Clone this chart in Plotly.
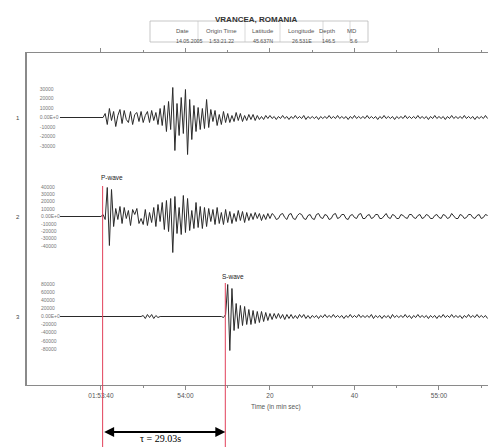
import plotly.graph_objects as go

# ---------------- data ----------------
# time in seconds relative to 01:53:40
RECORD_START = -9.7
SAMPLE_START = 0.0
DT = 0.5

TRACE1 = [
    0, 0, 4, -7, 9, -3, 6, -9, 2, 8,
    -6, 7, -2, -5, 6, -7, 3, 5, -4, 6,
    -5, 2, 6, -5, 7, -3, 5, -7, 9, -8,
    12, -14, 16, -12, 30, -33, 14, -18, 20, -16,
    28, -37, 18, -22, 12, -14, 10, -12, 9, -11,
    18, -10, 8, -4, 7, -8, 3, -7, 6, -5,
    4, -5, 2, -4, 5, -3, 4, -4, 2, -3,
    3, -2, 3, -3, 2, -2, 1, -2, 2, -1,
    2, -1, 1, -2, 1, -1, 2, -1, 1, -2,
    1, -1, 2, -1, 1, -1, 2, -2, 1, -1,
    1, -1, 1, -2, 1, -1, 1, -1, 2, -1,
    1, -1, 2, -1, 1, -1, 1, -2, 1, -1,
    2, -1, 1, -1, 1, -1, 2, -1, 1, -1,
    1, -2, 1, -1, 2, -1, 1, -1, 1, -2,
    1, -1, 1, -1, 2, -1, 1, -1, 1, -1,
    2, -1, 1, -1, 1, -2, 1, -1, 2, -1,
    1, -1, 1, -2, 1, -1, 2, -1, 1, -1,
    1, -1, 2, -1, 1, -1, 1, -2, 1, -1,
    1, -1, 2, -1,
]

TRACE2 = [
    0, 2, -3, 29, -29, 27, -10, 8, -3, 10,
    -7, 9, -2, 6, -9, 7, 2, 8, -7, -2,
    -8, 7, -9, 4, -6, 9, -10, 12, -5, 14,
    -13, 16, -15, 18, -36, 20, -17, 9, -18, 21,
    -16, 18, -14, 6, -12, 14, -11, 10, -12, 9,
    -10, 8, -5, 7, -8, 9, -7, 4, -8, 7,
    -6, 5, -7, 3, -5, 6, -4, 5, -6, 4,
    -4, 3, -3, 4, -2, 3, -4, 2, -3, 3,
    -2, 3, 1, -3, -2, 2, 3, -1, -3, 2,
    3, -2, -3, 1, 3, 2, -2, -3, 1, 2,
    -2, -3, 2, 3, -1, -2, 2, 1, -3, -2,
    2, 3, -2, -1, 2, 2, -2, -3, 1, 2,
    -1, -2, 2, 3, -2, -2, 1, 2, -2, -1,
    2, 2, -2, -2, 1, 3, -1, -2, 2, 1,
    -2, -2, 2, 1, -1, -2, 2, 2, -1, -2,
    1, 2, -2, -1, 2, 1, -2, -2, 1, 2,
    -1, -2, 2, 1, -2, -1, 3, 1, -2, -2,
    2, 1, -2, -1, 2, 2, -1, -2, 1, 2,
    -2, -1, 2, 1,
]

TRACE3 = [
    0, 0, 0, 0, 0, 0, 0, 0, 0, 0,
    0, 0, 0, 0, 0, 0, 0, 0, 0, 0,
    1, -2, 2, -1, 2, -2, 1, -1, 0, 0,
    0, 0, 0, 0, 0, 0, 0, 0, 0, 0,
    0, 0, 0, 0, 0, 0, 0, 0, 0, 0,
    0, 0, 0, 0, 0, 0, 0, 0, -1, 2,
    32, -34, 28, -14, 13, -12, 11, -9, 10, -8,
    7, -8, 6, -7, 5, -6, 5, -5, 4, -4,
    3, -3, 3, -2, 3, -2, 2, -3, 2, -2,
    2, -2, 1, -2, 2, -1, 2, -2, 1, -2,
    1, -1, 1, -2, 1, -1, 2, -1, 1, -1,
    2, -1, 1, -1, 1, -2, 1, -1, 2, -1,
    1, -1, 2, -1, 1, -1, 1, -1, 2, -2,
    1, -1, 1, -2, 1, -1, 1, -2, 2, -1,
    1, -1, 1, -1, 2, -1, 1, -2, 1, -1,
    2, -1, 1, -1, 1, -2, 1, -1, 1, -2,
    1, -1, 2, -1, 1, -1, 2, -1, 1, -1,
    1, -2, 1, -1, 2, -1, 1, -1, 2, -1,
    1, -1, 1, -2,
]

CHANNELS = ["1", "2", "3"]

P_ARRIVAL = 0.4
TAU = 29.03

X_TICKVALS = [0, 20, 40, 60, 80]
X_TICKTEXT = ["01:53:40", "54:00", "20", "40", "55:00"]

AMP1_VALS = [28.5, 19, 9.5, 0, -9.5, -19, -28.5]
AMP1_TEXT = ["30000", "20000", "10000", "0.00E+0", "-10000", "-20000", "-30000"]
AMP2_VALS = [29.6, 22.2, 14.8, 7.4, 0, -7.4, -14.8, -22.2, -29.6]
AMP2_TEXT = ["40000", "30000", "20000", "10000", "0.00E+0", "-10000", "-20000", "-30000", "-40000"]
AMP3_VALS = [32.4, 24.3, 16.2, 8.1, 0, -8.1, -16.2, -24.3, -32.4]
AMP3_TEXT = ["80000", "60000", "40000", "20000", "0.00E+0", "-20000", "-40000", "-60000", "-80000"]

TABLE_HEADER = ["Date", "Origin Time", "Latitude", "Longitude", "Depth", "MD"]
TABLE_ROW = ["14.05.2005", "1:53:21.22", "45.637N", "26.531E", "146.5", "5.6"]
TITLE = "VRANCEA, ROMANIA"

# ---------------- figure ----------------
FONT = "Liberation Sans, Arial, sans-serif"
TRACE_COLOR = "#2a2a2a"
FRAME = "#8a8a8a"
RED = "#e2405a"
W, H = 488, 447
ML, MB = 27, 62
PW, PH = W - ML, H - MB


def px2x(px):
    return (px - ML) / PW


def px2y(py):
    return (PH - py) / PH


def times(n):
    return [RECORD_START] + [SAMPLE_START + i * DT for i in range(n)]


fig = go.Figure()
for vals, ax in [(TRACE1, "y"), (TRACE2, "y2"), (TRACE3, "y3")]:
    fig.add_trace(go.Scatter(
        x=times(len(vals)), y=[0] + vals, yaxis=ax, mode="lines",
        line=dict(color=TRACE_COLOR, width=1.0),
        hoverinfo="skip", showlegend=False))

S_ARRIVAL = P_ARRIVAL + TAU
ydom = [0, px2y(53)]
common_y = dict(showgrid=False, zeroline=False, ticks="", ticklabelposition="inside",
                ticklabelstandoff=11, tickfont=dict(family=FONT, size=5, color="#777"))

fig.update_layout(
    width=W, height=H,
    margin=dict(l=ML, r=0, t=0, b=MB),
    paper_bgcolor="white", plot_bgcolor="white",
    font=dict(family=FONT, color="#333"),
    xaxis=dict(range=[-17.5, 91.6], tickvals=X_TICKVALS, ticktext=X_TICKTEXT,
               ticks="outside", ticklen=4, tickcolor=FRAME, showline=True,
               linecolor=FRAME, linewidth=1, mirror="ticks", showgrid=False,
               zeroline=False, tickfont=dict(family=FONT, size=6.5, color="#555"),
               minor=dict(dtick=10, tick0=0, ticks="outside", ticklen=2, tickcolor=FRAME)),
    yaxis=dict(domain=ydom, range=[-267.5, 64.5], tickvals=AMP1_VALS, ticktext=AMP1_TEXT,
               showline=True, linecolor=FRAME, linewidth=1.5, **common_y),
    yaxis2=dict(overlaying="y", range=[-168.5, 163.5], tickvals=AMP2_VALS,
                ticktext=AMP2_TEXT, showline=False, **common_y),
    yaxis3=dict(overlaying="y", range=[-68.5, 263.5], tickvals=AMP3_VALS,
                ticktext=AMP3_TEXT, showline=False, **common_y),
)

shapes = [
    dict(type="line", xref="x", yref="paper", x0=P_ARRIVAL, x1=P_ARRIVAL,
         y0=px2y(186), y1=px2y(447), line=dict(color=RED, width=1)),
    dict(type="line", xref="x", yref="paper", x0=S_ARRIVAL, x1=S_ARRIVAL,
         y0=px2y(283), y1=px2y(447), line=dict(color=RED, width=1)),
]

# info table (drawn with shapes + text)
col_edges = [150, 198, 245, 280, 323, 350, 368]
tbl_top, tbl_bot = 21, 42
shapes.append(dict(type="rect", xref="paper", yref="paper",
                   x0=px2x(col_edges[0]), x1=px2x(col_edges[-1]),
                   y0=px2y(tbl_bot), y1=px2y(tbl_top),
                   line=dict(color="#b0b0b0", width=0.7)))
for e in col_edges[1:-1]:
    shapes.append(dict(type="line", xref="paper", yref="paper",
                       x0=px2x(e), x1=px2x(e), y0=px2y(tbl_bot), y1=px2y(tbl_top),
                       line=dict(color="#c0c0c0", width=0.6)))
fig.update_layout(shapes=shapes)

ann = []
ann.append(dict(text="<b>" + TITLE + "</b>", xref="paper", yref="paper",
                x=px2x(256), y=px2y(13), showarrow=False,
                font=dict(size=8, color="#333")))
for i, (hd, val) in enumerate(zip(TABLE_HEADER, TABLE_ROW)):
    cx = px2x((col_edges[i] + col_edges[i + 1]) / 2)
    ann.append(dict(text=hd, xref="paper", yref="paper", x=cx, y=px2y(26.5),
                    showarrow=False, font=dict(size=6, color="#555")))
    ann.append(dict(text=val, xref="paper", yref="paper", x=cx, y=px2y(36.5),
                    showarrow=False, font=dict(size=5.3, color="#555")))
for ch, yr in zip(CHANNELS, ["y", "y2", "y3"]):
    ann.append(dict(text=ch, xref="paper", yref=yr, x=px2x(14), y=0, showarrow=False,
                    font=dict(size=6, color="#444")))
ann.append(dict(text="P-wave", xref="x", yref="y2", x=2.6, y=39.5, showarrow=False,
                font=dict(size=6.5, color="#222")))
ann.append(dict(text="S-wave", xref="x", yref="y3", x=31.2, y=40.5, showarrow=False,
                font=dict(size=6.5, color="#222")))
ann.append(dict(text="Time (in min sec)", xref="x", yref="paper", x=41.4, y=px2y(413),
                showarrow=False, font=dict(size=6.5, color="#555")))
ann.append(dict(text=" ", xref="x", yref="paper", x=S_ARRIVAL, y=px2y(432),
                axref="x", ax=P_ARRIVAL, ayref="pixel", ay=0,
                showarrow=True, arrowside="end+start", arrowhead=2, arrowsize=1,
                arrowwidth=2, arrowcolor="black", standoff=0, startstandoff=0,
                font=dict(size=1)))
ann.append(dict(text="τ = %.2fs" % TAU, xref="x", yref="paper",
                x=(P_ARRIVAL + S_ARRIVAL) / 2 - 0.8, y=px2y(446), yanchor="bottom",
                showarrow=False,
                font=dict(family="Liberation Serif, Times New Roman, serif", size=10,
                          color="black")))
fig.update_layout(annotations=ann)

fig.write_html("out.html", config={"displayModeBar": False},
               post_script="document.body.style.margin='0';")
